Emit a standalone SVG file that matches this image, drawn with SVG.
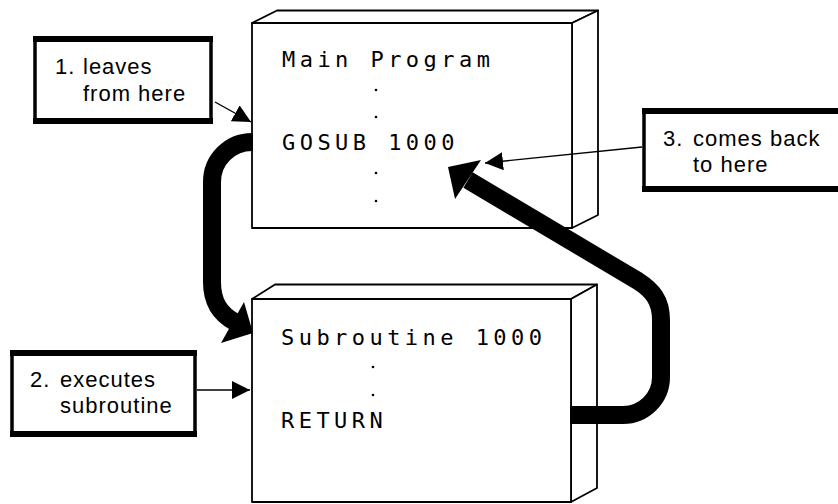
<svg xmlns="http://www.w3.org/2000/svg" width="838" height="504" viewBox="0 0 838 504">
  <style>
    .box { fill: #fff; stroke: #000; stroke-width: 1.8; stroke-linejoin: round; }
    .mono { font-family: "DejaVu Sans Mono", monospace; font-size: 22px; letter-spacing: 4.45px; fill: #000; }
    .lbl { font-family: "Liberation Sans", Arial, sans-serif; font-size: 22px; letter-spacing: 1px; fill: #000; }
    .frame { fill: #fff; stroke: #000; stroke-width: 3.5; }
    .band { fill: #000; }
    .thin { fill: none; stroke: #000; stroke-width: 1.4; }
    .big { fill: none; stroke: #000; stroke-width: 18; }
    .dot { fill: #000; }
  </style>
  <defs>
    <marker id="ah" markerUnits="userSpaceOnUse" markerWidth="19" markerHeight="19" refX="18" refY="9" orient="auto" viewBox="0 0 19 19">
      <path d="M0,0 L18,9 L0,18 z" fill="#000"/>
    </marker>
  </defs>
  <rect width="838" height="504" fill="#fff"/>

  <g id="main-program">
    <polygon class="box" points="252,23 277,10.5 598,10.5 572,23"/>
    <polygon class="box" points="572,23 598,10.5 598,215 572,228"/>
    <rect class="box" x="252" y="23" width="320" height="205"/>
    <text class="mono" x="282" y="67">Main Program</text>
    <circle class="dot" cx="376" cy="90" r="1.3"/>
    <circle class="dot" cx="376" cy="117" r="1.3"/>
    <text class="mono" x="282" y="150">GOSUB 1000</text>
    <circle class="dot" cx="376" cy="173" r="1.3"/>
    <circle class="dot" cx="376" cy="201" r="1.3"/>
  </g>

  <g id="subroutine">
    <polygon class="box" points="252,299 275,284.5 597,284.5 571,299"/>
    <polygon class="box" points="571,299 597,284.5 597,488 571,502"/>
    <rect class="box" x="252" y="299" width="319" height="203"/>
    <text class="mono" x="281" y="345">Subroutine 1000</text>
    <circle class="dot" cx="373" cy="367" r="1.3"/>
    <circle class="dot" cx="373" cy="395" r="1.3"/>
    <text class="mono" x="281" y="428">RETURN</text>
  </g>

  <g id="label-1">
    <rect class="frame" x="35" y="38" width="176" height="84"/>
    <rect class="band" x="33" y="36" width="180" height="6"/>
    <rect class="band" x="33" y="118" width="180" height="6"/>
    <text class="lbl" x="55" y="74">1.</text>
    <text class="lbl" x="83" y="74">leaves</text>
    <text class="lbl" x="83" y="101">from here</text>
  </g>

  <g id="label-2">
    <rect class="frame" x="12" y="352" width="183" height="83"/>
    <rect class="band" x="10" y="350" width="187" height="6"/>
    <rect class="band" x="10" y="431" width="187" height="6"/>
    <text class="lbl" x="30" y="387">2.</text>
    <text class="lbl" x="60" y="387">executes</text>
    <text class="lbl" x="60" y="413">subroutine</text>
  </g>

  <g id="label-3">
    <rect class="frame" x="644" y="110" width="200" height="80"/>
    <rect class="band" x="642" y="108" width="200" height="6"/>
    <rect class="band" x="642" y="186" width="200" height="6"/>
    <text class="lbl" x="663" y="146">3.</text>
    <text class="lbl" x="693" y="146">comes back</text>
    <text class="lbl" x="693" y="172">to here</text>
  </g>

  <g id="connectors">
    <line class="thin" x1="215" y1="102" x2="251" y2="122" marker-end="url(#ah)"/>
    <line class="thin" x1="197" y1="390" x2="250" y2="390" marker-end="url(#ah)"/>
    <line class="thin" x1="642" y1="147" x2="485" y2="163" marker-end="url(#ah)"/>
    <path class="big" d="M 253 142 H 252 A 40 40 0 0 0 212 182 V 282 C 212 302 220 314 235 322"/>
    <polygon class="band" points="253,333 221,343 244,302"/>
    <path class="big" d="M 570 415 H 623 A 38 38 0 0 0 661 377 V 320 C 661 300 652 290 638 281 L 468 180"/>
    <polygon class="band" points="448,167 481,160 455,199"/>
  </g>
</svg>
